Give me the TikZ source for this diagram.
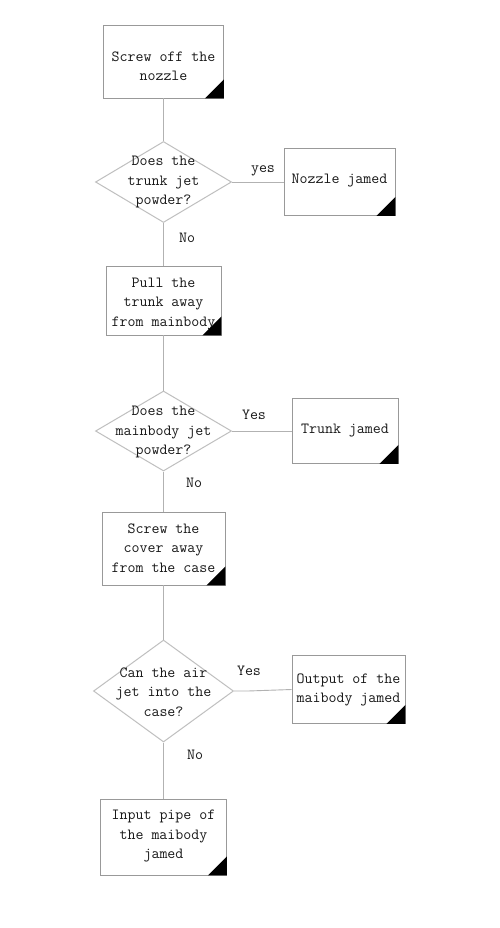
\documentclass[tikz,border=0pt]{standalone}
\usetikzlibrary{shapes.geometric}
\begin{document}
\begin{tikzpicture}[x=1pt,y=-1pt,
  txt/.style={font=\fontsize{15.5}{19.5}\selectfont\ttfamily, text=black!90, align=center, inner sep=0pt},
  box/.style={draw=black!40, line width=0.9pt, fill=white, inner sep=0pt},
  dia/.style={draw=black!25, line width=1pt, diamond, inner sep=0pt},
  conn/.style={draw=black!30, line width=0.9pt},
  lbl/.style={font=\fontsize{15.5}{18}\selectfont\ttfamily, text=black!90, inner sep=0pt}]
\useasboundingbox (0,0) rectangle (500,928);
\fill[white] (0,0) rectangle (500,928);
% boxes
\node[box, minimum width=120pt, minimum height=73pt] (b1) at (163.5,61.5) {};
\node[dia, minimum width=136pt, minimum height=81pt] (d1) at (163.5,182) {};
\node[box, minimum width=111pt, minimum height=67pt] (n1) at (339.5,182) {};
\node[box, minimum width=115pt, minimum height=69pt] (b2) at (163.5,300.5) {};
\node[dia, minimum width=136pt, minimum height=80pt] (d2) at (163.5,431) {};
\node[box, minimum width=106pt, minimum height=65pt] (n2) at (345,431) {};
\node[box, minimum width=123pt, minimum height=73pt] (b3) at (163.5,548.5) {};
\node[dia, minimum width=140pt, minimum height=102pt] (d3) at (163.5,691) {};
\node[box, minimum width=113pt, minimum height=68pt] (n3) at (348.5,689.5) {};
\node[box, minimum width=126pt, minimum height=76pt] (b4) at (163.5,837) {};
% texts
\node[txt] (t1) at (163.5,66) {Screw off the\\nozzle};
\node[txt] (td1) at (163.5,182) {Does the\\trunk jet\\powder?};
\node[txt] (tn1) at (339.5,181) {Nozzle jamed};
\node[txt] (t2) at (163.5,304) {Pull the\\trunk away\\from mainbody};
\node[txt] (td2) at (163.5,432) {Does the\\mainbody jet\\powder?};
\node[txt] (tn2) at (345,431) {Trunk jamed};
\node[txt] (t3) at (163.5,548) {Screw the\\cover away\\from the case};
\node[txt] (td3) at (163.5,692) {Can the air\\jet into the\\case?};
\node[txt] (tn3) at (348.5,690) {Output of the\\maibody jamed};
\node[txt] (t4) at (163.5,836) {Input pipe of\\the maibody\\jamed};
% corner triangles
\foreach \n in {b1,n1,b2,n2,b3,n3,b4}{
  \fill[black] (\n.south east) -- ++(-19,0) -- ++(19,-19) -- cycle;
}
% connectors
\draw[conn] (b1.south) -- (d1.north);
\draw[conn] (d1.east) -- (n1.west);
\draw[conn] (d1.south) -- (b2.north);
\draw[conn] (b2.south) -- (d2.north);
\draw[conn] (d2.east) -- (n2.west);
\draw[conn] (d2.south) -- (b3.north);
\draw[conn] (b3.south) -- (d3.north);
\draw[conn] (d3.east) -- ++(14,0) -- (n3.west);
\draw[conn] (d3.south) -- (b4.north);
% labels
\node[lbl] (l1) at (263,171) {yes};
\node[lbl] (l2) at (187,238) {No};
\node[lbl] (l3) at (254,415) {Yes};
\node[lbl] (l4) at (194,483) {No};
\node[lbl] (l5) at (249,671) {Yes};
\node[lbl] (l6) at (195,755) {No};
\end{tikzpicture}
\end{document}
